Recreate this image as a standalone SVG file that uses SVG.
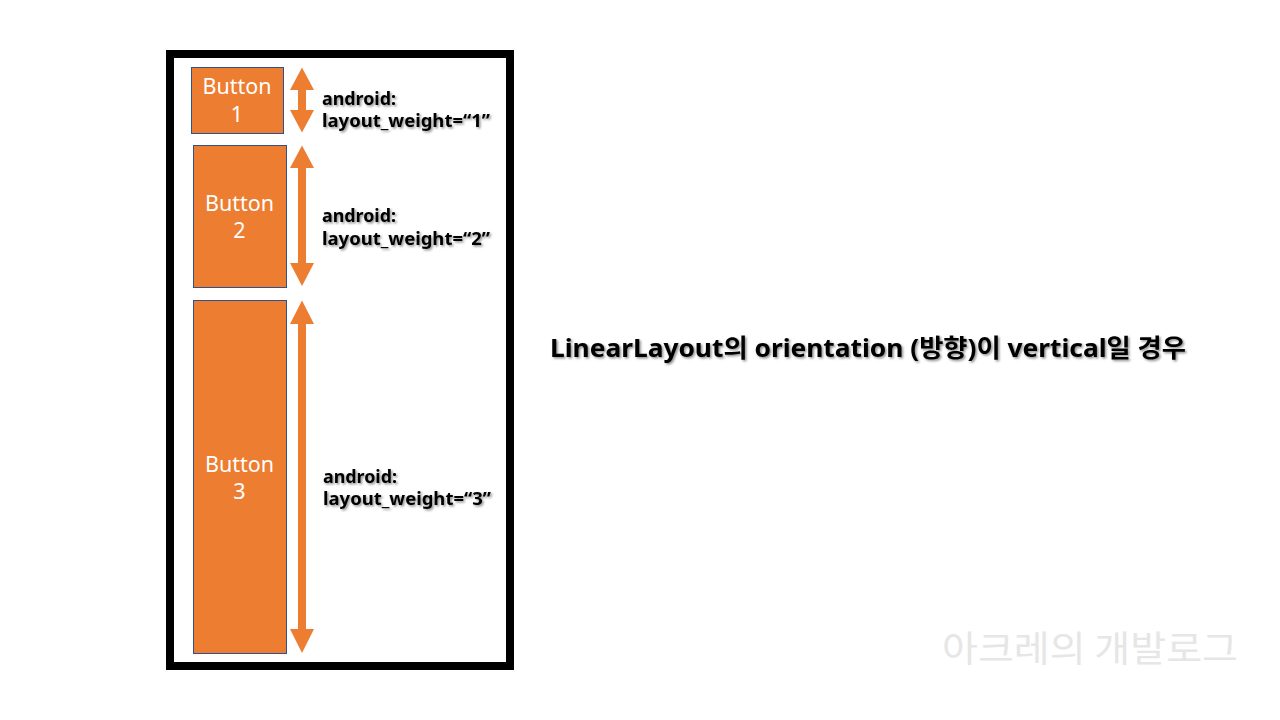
<svg xmlns="http://www.w3.org/2000/svg" width="1280" height="720" viewBox="0 0 1280 720">
  <defs>
    <filter id="sh" x="-10%" y="-30%" width="120%" height="160%">
      <feDropShadow dx="1.5" dy="1.5" stdDeviation="1" flood-color="#000" flood-opacity="0.45"/>
    </filter>
  </defs>
  <style>
    .btn { fill: #ED7D31; stroke: #2F528F; stroke-width: 1; }
    .btxt { fill: #ffffff; font-family: "Noto Sans", "Noto Sans CJK KR", sans-serif; font-size: 21.5px; text-anchor: middle; }
    .arrow { fill: #ED7D31; }
    .lbl { fill: #000; font-family: "Noto Sans", "Noto Sans CJK KR", sans-serif; font-size: 17.5px; font-weight: bold; filter: url(#sh); }
    .title { fill: #000; font-family: "Noto Sans", "Noto Sans CJK KR", sans-serif; font-size: 25px; font-weight: bold; filter: url(#sh); }
    .wm { fill: #e6e6e6; font-family: "Noto Sans CJK KR", sans-serif; font-size: 36px; }
  </style>
  <rect width="1280" height="720" fill="#ffffff"/>
  <g id="frame">
    <rect x="170" y="54" width="340" height="612" fill="#ffffff" stroke="#000000" stroke-width="8"/>
  </g>
  <g id="button1">
    <rect class="btn" x="191.5" y="67.5" width="92" height="66"/>
    <text class="btxt" x="237" y="94">Button</text>
    <text class="btxt" x="237" y="122">1</text>
  </g>
  <g id="button2">
    <rect class="btn" x="193.5" y="145.5" width="93" height="142"/>
    <text class="btxt" x="239.5" y="211">Button</text>
    <text class="btxt" x="239.5" y="238">2</text>
  </g>
  <g id="button3">
    <rect class="btn" x="193.5" y="300.5" width="93" height="353"/>
    <text class="btxt" x="239.5" y="472">Button</text>
    <text class="btxt" x="239.5" y="499">3</text>
  </g>
  <g id="connectors">
    <polygon class="arrow" points="302,67.5 314,90 306,90 306,110 314,110 302,132.5 290,110 298,110 298,90 290,90"/>
    <polygon class="arrow" points="302,145.5 314,168 306,168 306,263 314,263 302,286 290,263 298,263 298,168 290,168"/>
    <polygon class="arrow" points="302,300.5 314,324 306,324 306,629 314,629 302,653 290,629 298,629 298,324 290,324"/>
  </g>
  <g id="label1">
    <text class="lbl" x="322" y="105" textLength="74" lengthAdjust="spacingAndGlyphs">android:</text>
    <text class="lbl" x="322" y="127" textLength="168" lengthAdjust="spacingAndGlyphs">layout_weight=“1”</text>
  </g>
  <g id="label2">
    <text class="lbl" x="322" y="222" textLength="74" lengthAdjust="spacingAndGlyphs">android:</text>
    <text class="lbl" x="322" y="245" textLength="168" lengthAdjust="spacingAndGlyphs">layout_weight=“2”</text>
  </g>
  <g id="label3">
    <text class="lbl" x="323" y="483" textLength="74" lengthAdjust="spacingAndGlyphs">android:</text>
    <text class="lbl" x="323" y="505" textLength="168" lengthAdjust="spacingAndGlyphs">layout_weight=“3”</text>
  </g>
  <g id="title">
    <text class="title" x="550" y="357" textLength="636" lengthAdjust="spacingAndGlyphs">LinearLayout의 orientation (방향)이 vertical일 경우</text>
  </g>
  <g id="watermark">
    <text class="wm" x="942" y="662" textLength="296" lengthAdjust="spacingAndGlyphs">아크레의 개발로그</text>
  </g>
</svg>
